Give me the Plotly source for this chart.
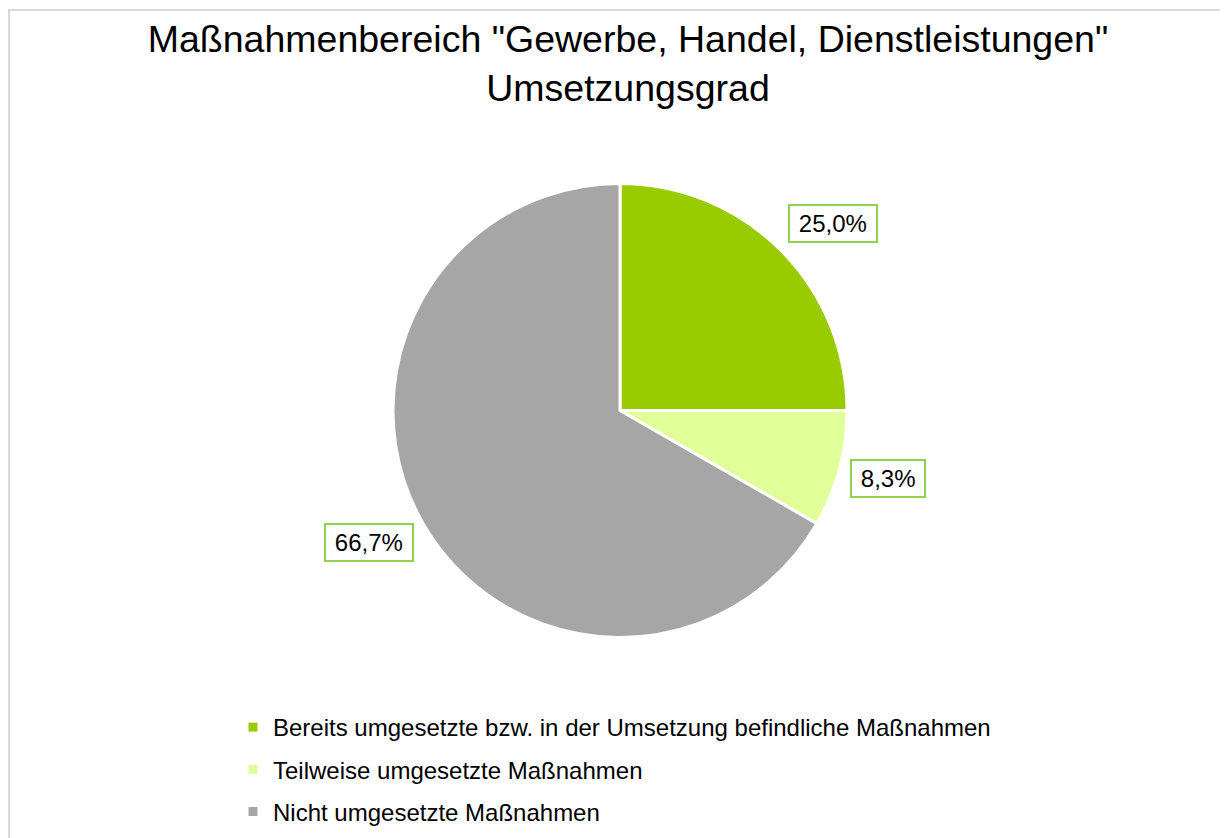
import math
import plotly.graph_objects as go

W, H = 1228, 838

title_lines = ['Maßnahmenbereich "Gewerbe, Handel, Dienstleistungen"', "Umsetzungsgrad"]
categories = [
    "Bereits umgesetzte bzw. in der Umsetzung befindliche Maßnahmen",
    "Teilweise umgesetzte Maßnahmen",
    "Nicht umgesetzte Maßnahmen",
]
shares = [25.0, 8.3, 66.7]
label_texts = ["25,0%", "8,3%", "66,7%"]
colors = ["#99CC00", "#E0FF99", "#A6A6A6"]

FONT = "Liberation Sans, Arial, sans-serif"

# pie geometry (figure pixels)
cx, cy, R = 612, 402.5, 227
dom_y = [(H - cy - R) / H, (H - cy + R) / H]
dom_x = [(cx - 300) / W, (cx + 300) / W]

fig = go.Figure()
fig.add_trace(go.Pie(
    labels=categories, values=shares, sort=False, direction="clockwise", rotation=0,
    marker=dict(colors=colors, line=dict(color="white", width=3)),
    textinfo="none", hoverinfo="label+percent", showlegend=False,
    domain=dict(x=dom_x, y=dom_y),
))

# legend entries
for i, (c, col) in enumerate(zip(categories, colors)):
    fig.add_trace(go.Scatter(
        x=[None], y=[None], mode="markers", name=c, legendgroup=f"g{i}",
        marker=dict(symbol="square", size=9, color=col), showlegend=True,
    ))

# labels outside slices: the box sits just outside the rim at the slice's mid angle
total = sum(shares)
cum = 0.0
rl = R + 11
half_h = 18.5
for v, t in zip(shares, label_texts):
    mid = (cum + v / 2) / total * 2 * math.pi
    cum += v
    s, c = math.sin(mid), math.cos(mid)
    px = cx + rl * s
    py = cy - rl * c
    xa = "left" if s > 0.3 else ("right" if s < -0.3 else "center")
    fy = max(-1.0, min(1.0, -1.4 * c))
    fig.add_annotation(
        x=px / W, y=(H - py) / H, xref="paper", yref="paper",
        text="&#8201;" + t + "&#8201;", showarrow=False,
        font=dict(family=FONT, size=24, color="#000000"),
        bordercolor="#92D050", borderwidth=2, borderpad=4, bgcolor="white",
        xanchor=xa, yanchor="middle", yshift=-fy * half_h,
    )

fig.add_shape(type="rect", xref="paper", yref="paper",
              x0=1 / W, x1=1.1, y0=-0.1, y1=1 - 2 / H,
              line=dict(color="#D9D9D9", width=2), fillcolor="rgba(0,0,0,0)", layer="below")

fig.update_layout(
    width=W, height=H,
    margin=dict(l=0, r=0, t=0, b=0),
    paper_bgcolor="white", plot_bgcolor="white",
    title=dict(text="<br>".join(title_lines), x=620 / W, xanchor="center",
               y=1 - 44 / H, yanchor="middle", yref="container",
               font=dict(family=FONT, size=37.5, color="#000000")),
    xaxis=dict(visible=False), yaxis=dict(visible=False),
    legend=dict(x=225 / W, y=1 - 697 / H, xanchor="left", yanchor="top",
                font=dict(family=FONT, size=24, color="#000000"),
                tracegroupgap=8, bgcolor="rgba(0,0,0,0)", itemwidth=30),
    showlegend=True,
)

fig.write_html("out.html")
